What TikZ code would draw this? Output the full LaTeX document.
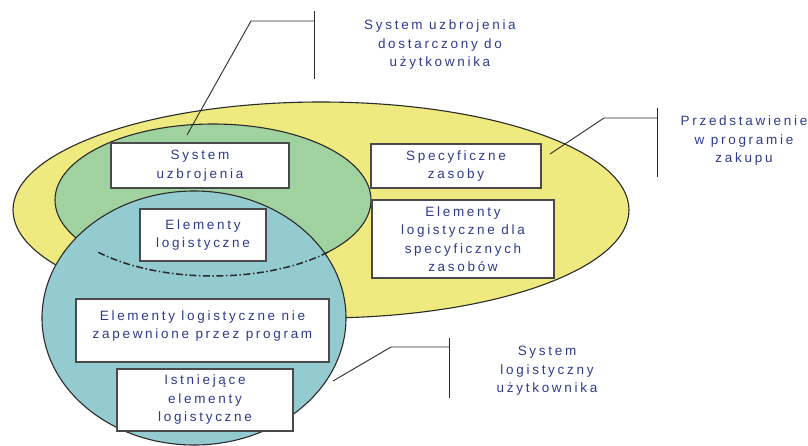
\documentclass[tikz,border=0pt]{standalone}
\usepackage{fontspec}
\setmainfont{Liberation Sans}[LetterSpace=20]
\definecolor{txtblue}{HTML}{2E3B8C}
\definecolor{yel}{HTML}{EEEA80}
\definecolor{grn}{HTML}{A0D2A0}
\definecolor{blu}{HTML}{94CBD0}
\definecolor{edge}{HTML}{2A2A2A}
\definecolor{boxedge}{HTML}{4A4A4A}
\begin{document}
\begin{tikzpicture}[x=1pt,y=-1pt,
  txt/.style={text=txtblue, font=\fontsize{13.5}{18.5}\selectfont, align=center, inner sep=0pt},
  box/.style={txt, draw=boxedge, line width=1.3pt, fill=white},
  blob/.style={draw=edge, line width=1.1pt},
  callout/.style={draw=edge, line width=0.9pt}]
\useasboundingbox (0,0) rectangle (808,445);
% regions
\path[blob, fill=yel] (321,210) ellipse [x radius=308pt, y radius=108pt];
\path[blob, fill=grn] (213,200) ellipse [x radius=158pt, y radius=76pt];
\path[blob, fill=blu] (194,318) ellipse [x radius=152pt, y radius=127pt];
\draw[edge, line width=1.5pt, dash pattern=on 7pt off 2.5pt on 1.5pt off 2.5pt]
  plot[domain=43.3:137.7, samples=60] ({213+158*cos(\x)}, {200+76*sin(\x)});
% boxes
\node[box, minimum width=178pt, minimum height=45pt] (su) at (200,165.5) {System\\uzbrojenia};
\node[box, minimum width=126pt, minimum height=52pt] (el) at (203,235) {Elementy\\logistyczne};
\node[box, minimum width=170pt, minimum height=44pt] (sz) at (456,166) {Specyficzne\\zasoby};
\node[box, minimum width=182pt, minimum height=78pt] (els) at (463,239) {Elementy\\logistyczne dla\\specyficznych\\zasobów};
\node[box, minimum width=253pt, minimum height=63pt] (eln) at (202.5,330.5) {};
\node[txt] (elnt) at (202.5,326) {Elementy logistyczne nie\\zapewnione przez program};
\node[box, minimum width=176pt, minimum height=62pt] (iel) at (205,400) {Istniejące\\elementy\\logistyczne};
% callout 1
\coordinate (c1a) at (187,135);
\coordinate (c1b) at (251,21);
\coordinate (c1c) at (314,21);
\coordinate (c1t) at (314,11);
\coordinate (c1d) at (314,79);
\draw[callout] (c1a) -- (c1b) -- (c1c);
\draw[callout] (c1t) -- (c1d);
\node[txt] (l1) at (440,45) {System uzbrojenia\\dostarczony do\\użytkownika};
% callout 2
\coordinate (c2a) at (550,154);
\coordinate (c2b) at (604,118);
\coordinate (c2c) at (657,118);
\coordinate (c2t) at (657,108);
\coordinate (c2d) at (657,177);
\draw[callout] (c2a) -- (c2b) -- (c2c);
\draw[callout] (c2t) -- (c2d);
\node[txt] (l2) at (744,141) {Przedstawienie\\w programie\\zakupu};
% callout 3
\coordinate (c3a) at (333,381);
\coordinate (c3b) at (391,347);
\coordinate (c3c) at (449,347);
\coordinate (c3t) at (449,338);
\coordinate (c3d) at (449,398);
\draw[callout] (c3a) -- (c3b) -- (c3c);
\draw[callout] (c3t) -- (c3d);
\node[txt] (l3) at (547,371) {System\\logistyczny\\użytkownika};
\end{tikzpicture}
\end{document}
